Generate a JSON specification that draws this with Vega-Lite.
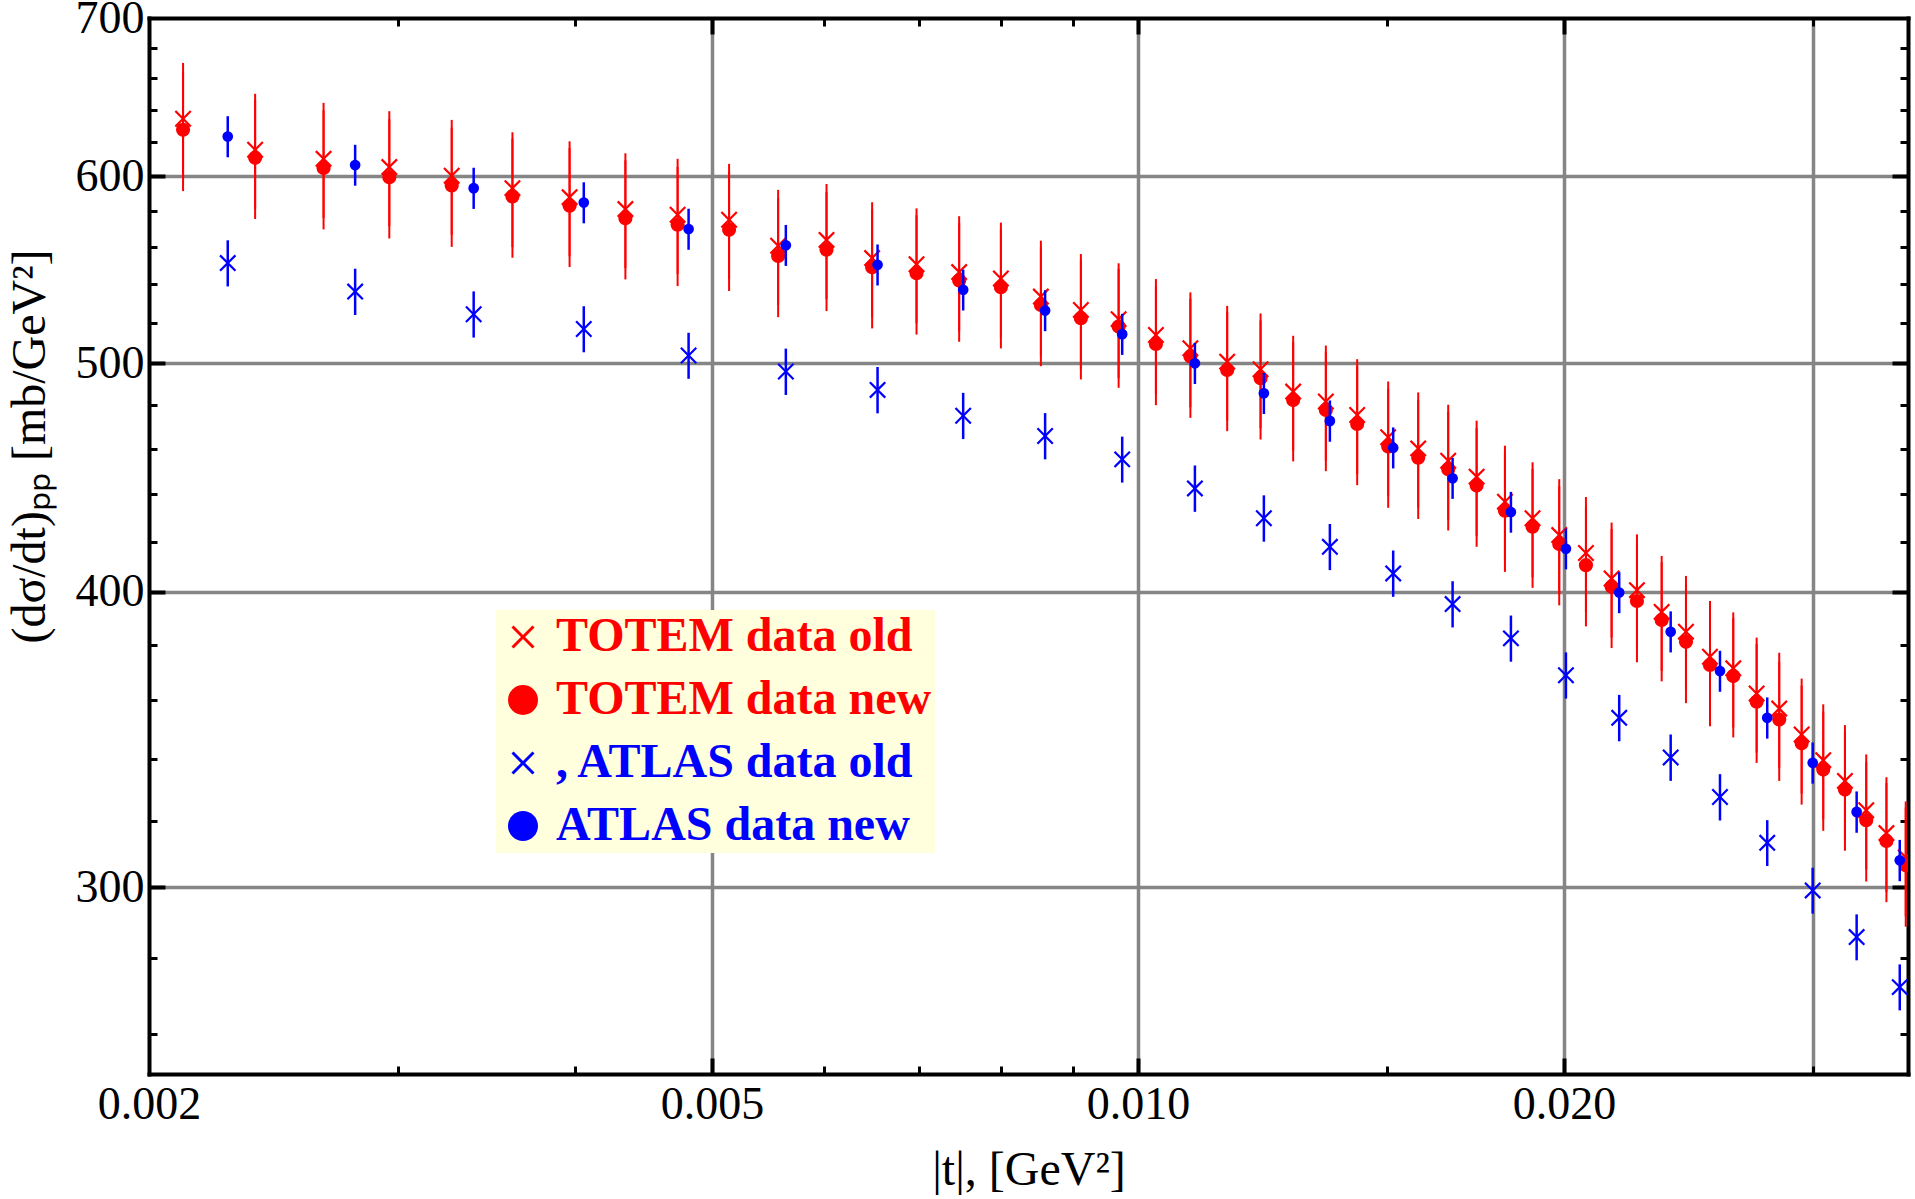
{
  "$schema": "https://vega.github.io/schema/vega-lite/v6.json",
  "width": 1759,
  "height": 1056,
  "autosize": {"type": "none"},
  "padding": {"left": 149, "top": 18, "right": 7, "bottom": 125},
  "background": "white",
  "config": {
    "view": {"stroke": null},
    "font": "Liberation Serif"
  },
  "data": {
    "values": [
      {"series": "TOTEM data old", "t": 0.002114, "v": 634.5, "err": 35.5},
      {"series": "TOTEM data old", "t": 0.002377, "v": 615.6, "err": 34.5},
      {"series": "TOTEM data old", "t": 0.002657, "v": 610.2, "err": 34.2},
      {"series": "TOTEM data old", "t": 0.002957, "v": 605.3, "err": 33.9},
      {"series": "TOTEM data old", "t": 0.003273, "v": 600.2, "err": 33.6},
      {"series": "TOTEM data old", "t": 0.003613, "v": 593.0, "err": 33.2},
      {"series": "TOTEM data old", "t": 0.003965, "v": 587.8, "err": 32.9},
      {"series": "TOTEM data old", "t": 0.004342, "v": 581.0, "err": 32.5},
      {"series": "TOTEM data old", "t": 0.004727, "v": 577.8, "err": 32.4},
      {"series": "TOTEM data old", "t": 0.00514, "v": 575.0, "err": 32.2},
      {"series": "TOTEM data old", "t": 0.005567, "v": 560.6, "err": 31.4},
      {"series": "TOTEM data old", "t": 0.006023, "v": 563.8, "err": 31.6},
      {"series": "TOTEM data old", "t": 0.006487, "v": 553.9, "err": 31.0},
      {"series": "TOTEM data old", "t": 0.006973, "v": 550.6, "err": 30.8},
      {"series": "TOTEM data old", "t": 0.007474, "v": 546.4, "err": 30.6},
      {"series": "TOTEM data old", "t": 0.007999, "v": 543.0, "err": 30.4},
      {"series": "TOTEM data old", "t": 0.008537, "v": 533.5, "err": 29.9},
      {"series": "TOTEM data old", "t": 0.009111, "v": 526.6, "err": 29.5},
      {"series": "TOTEM data old", "t": 0.009688, "v": 521.9, "err": 29.2},
      {"series": "TOTEM data old", "t": 0.010294, "v": 513.9, "err": 28.8},
      {"series": "TOTEM data old", "t": 0.010888, "v": 507.3, "err": 28.4},
      {"series": "TOTEM data old", "t": 0.01156, "v": 500.7, "err": 28.0},
      {"series": "TOTEM data old", "t": 0.012205, "v": 497.0, "err": 27.8},
      {"series": "TOTEM data old", "t": 0.01287, "v": 486.3, "err": 27.2},
      {"series": "TOTEM data old", "t": 0.013573, "v": 481.6, "err": 27.0},
      {"series": "TOTEM data old", "t": 0.014283, "v": 475.3, "err": 26.6},
      {"series": "TOTEM data old", "t": 0.015022, "v": 465.1, "err": 26.0},
      {"series": "TOTEM data old", "t": 0.015774, "v": 460.1, "err": 25.8},
      {"series": "TOTEM data old", "t": 0.016563, "v": 454.6, "err": 25.5},
      {"series": "TOTEM data old", "t": 0.017347, "v": 447.6, "err": 25.1},
      {"series": "TOTEM data old", "t": 0.018165, "v": 436.8, "err": 24.5},
      {"series": "TOTEM data old", "t": 0.019, "v": 429.8, "err": 24.1},
      {"series": "TOTEM data old", "t": 0.019843, "v": 422.8, "err": 23.7},
      {"series": "TOTEM data old", "t": 0.020724, "v": 415.5, "err": 23.3},
      {"series": "TOTEM data old", "t": 0.021608, "v": 405.3, "err": 22.7},
      {"series": "TOTEM data old", "t": 0.022518, "v": 400.7, "err": 22.4},
      {"series": "TOTEM data old", "t": 0.023442, "v": 392.3, "err": 22.0},
      {"series": "TOTEM data old", "t": 0.024387, "v": 384.8, "err": 21.5},
      {"series": "TOTEM data old", "t": 0.025359, "v": 375.5, "err": 21.0},
      {"series": "TOTEM data old", "t": 0.026338, "v": 371.3, "err": 20.8},
      {"series": "TOTEM data old", "t": 0.027359, "v": 362.3, "err": 20.3},
      {"series": "TOTEM data old", "t": 0.028384, "v": 357.0, "err": 20.0},
      {"series": "TOTEM data old", "t": 0.029438, "v": 348.1, "err": 19.5},
      {"series": "TOTEM data old", "t": 0.030491, "v": 339.5, "err": 19.0},
      {"series": "TOTEM data old", "t": 0.031587, "v": 332.7, "err": 18.6},
      {"series": "TOTEM data old", "t": 0.0327, "v": 323.3, "err": 18.1},
      {"series": "TOTEM data old", "t": 0.033793, "v": 316.2, "err": 17.7},
      {"series": "TOTEM data old", "t": 0.034871, "v": 308.8, "err": 17.3},
      {"series": "TOTEM data new", "t": 0.002114, "v": 627.7, "err": 36.4},
      {"series": "TOTEM data new", "t": 0.002377, "v": 610.8, "err": 35.4},
      {"series": "TOTEM data new", "t": 0.002657, "v": 604.7, "err": 35.1},
      {"series": "TOTEM data new", "t": 0.002957, "v": 599.4, "err": 34.8},
      {"series": "TOTEM data new", "t": 0.003273, "v": 594.5, "err": 34.5},
      {"series": "TOTEM data new", "t": 0.003613, "v": 588.2, "err": 34.1},
      {"series": "TOTEM data new", "t": 0.003965, "v": 582.9, "err": 33.8},
      {"series": "TOTEM data new", "t": 0.004342, "v": 575.9, "err": 33.4},
      {"series": "TOTEM data new", "t": 0.004727, "v": 572.2, "err": 33.2},
      {"series": "TOTEM data new", "t": 0.00514, "v": 569.4, "err": 33.0},
      {"series": "TOTEM data new", "t": 0.005567, "v": 555.1, "err": 32.2},
      {"series": "TOTEM data new", "t": 0.006023, "v": 558.4, "err": 32.4},
      {"series": "TOTEM data new", "t": 0.006487, "v": 549.0, "err": 31.8},
      {"series": "TOTEM data new", "t": 0.006973, "v": 545.8, "err": 31.7},
      {"series": "TOTEM data new", "t": 0.007474, "v": 541.9, "err": 31.4},
      {"series": "TOTEM data new", "t": 0.007999, "v": 538.4, "err": 31.2},
      {"series": "TOTEM data new", "t": 0.008537, "v": 529.2, "err": 30.7},
      {"series": "TOTEM data new", "t": 0.009111, "v": 522.4, "err": 30.3},
      {"series": "TOTEM data new", "t": 0.009688, "v": 518.1, "err": 30.0},
      {"series": "TOTEM data new", "t": 0.010294, "v": 509.4, "err": 29.5},
      {"series": "TOTEM data new", "t": 0.010888, "v": 503.2, "err": 29.2},
      {"series": "TOTEM data new", "t": 0.01156, "v": 496.7, "err": 28.8},
      {"series": "TOTEM data new", "t": 0.012205, "v": 492.7, "err": 28.6},
      {"series": "TOTEM data new", "t": 0.01287, "v": 482.3, "err": 28.0},
      {"series": "TOTEM data new", "t": 0.013573, "v": 477.7, "err": 27.7},
      {"series": "TOTEM data new", "t": 0.014283, "v": 471.2, "err": 27.3},
      {"series": "TOTEM data new", "t": 0.015022, "v": 460.9, "err": 26.7},
      {"series": "TOTEM data new", "t": 0.015774, "v": 455.9, "err": 26.4},
      {"series": "TOTEM data new", "t": 0.016563, "v": 450.8, "err": 26.1},
      {"series": "TOTEM data new", "t": 0.017347, "v": 443.7, "err": 25.7},
      {"series": "TOTEM data new", "t": 0.018165, "v": 433.0, "err": 25.1},
      {"series": "TOTEM data new", "t": 0.019, "v": 426.3, "err": 24.7},
      {"series": "TOTEM data new", "t": 0.019843, "v": 419.1, "err": 24.3},
      {"series": "TOTEM data new", "t": 0.020724, "v": 410.6, "err": 23.8},
      {"series": "TOTEM data new", "t": 0.021608, "v": 402.0, "err": 23.3},
      {"series": "TOTEM data new", "t": 0.022518, "v": 396.5, "err": 23.0},
      {"series": "TOTEM data new", "t": 0.023442, "v": 389.2, "err": 22.6},
      {"series": "TOTEM data new", "t": 0.024387, "v": 381.0, "err": 22.1},
      {"series": "TOTEM data new", "t": 0.025359, "v": 372.5, "err": 21.6},
      {"series": "TOTEM data new", "t": 0.026338, "v": 368.5, "err": 21.4},
      {"series": "TOTEM data new", "t": 0.027359, "v": 359.4, "err": 20.8},
      {"series": "TOTEM data new", "t": 0.028384, "v": 353.2, "err": 20.5},
      {"series": "TOTEM data new", "t": 0.029438, "v": 345.1, "err": 20.0},
      {"series": "TOTEM data new", "t": 0.030491, "v": 336.4, "err": 19.5},
      {"series": "TOTEM data new", "t": 0.031587, "v": 329.9, "err": 19.1},
      {"series": "TOTEM data new", "t": 0.0327, "v": 320.2, "err": 18.6},
      {"series": "TOTEM data new", "t": 0.033793, "v": 313.8, "err": 18.2},
      {"series": "TOTEM data new", "t": 0.034871, "v": 306.4, "err": 17.8},
      {"series": "ATLAS data old", "t": 0.0022734, "v": 551.2, "err": 12.4},
      {"series": "ATLAS data old", "t": 0.0027971, "v": 536.1, "err": 12.1},
      {"series": "ATLAS data old", "t": 0.0033921, "v": 524.4, "err": 11.8},
      {"series": "ATLAS data old", "t": 0.0040577, "v": 516.9, "err": 11.6},
      {"series": "ATLAS data old", "t": 0.0048122, "v": 503.7, "err": 11.3},
      {"series": "ATLAS data old", "t": 0.0056373, "v": 495.9, "err": 11.2},
      {"series": "ATLAS data old", "t": 0.0065446, "v": 487.1, "err": 11.0},
      {"series": "ATLAS data old", "t": 0.0075229, "v": 475.0, "err": 10.7},
      {"series": "ATLAS data old", "t": 0.0085959, "v": 465.7, "err": 10.5},
      {"series": "ATLAS data old", "t": 0.0097445, "v": 455.2, "err": 10.2},
      {"series": "ATLAS data old", "t": 0.0109684, "v": 442.5, "err": 10.0},
      {"series": "ATLAS data old", "t": 0.0122709, "v": 429.8, "err": 9.7},
      {"series": "ATLAS data old", "t": 0.0136621, "v": 418.0, "err": 9.4},
      {"series": "ATLAS data old", "t": 0.0151449, "v": 407.3, "err": 9.2},
      {"series": "ATLAS data old", "t": 0.0166821, "v": 395.3, "err": 8.9},
      {"series": "ATLAS data old", "t": 0.0183427, "v": 382.3, "err": 8.6},
      {"series": "ATLAS data old", "t": 0.02006, "v": 368.8, "err": 8.3},
      {"series": "ATLAS data old", "t": 0.021877, "v": 353.8, "err": 8.0},
      {"series": "ATLAS data old", "t": 0.023788, "v": 340.4, "err": 7.7},
      {"series": "ATLAS data old", "t": 0.025775, "v": 327.5, "err": 7.4},
      {"series": "ATLAS data old", "t": 0.027835, "v": 313.2, "err": 7.0},
      {"series": "ATLAS data old", "t": 0.029972, "v": 299.0, "err": 6.7},
      {"series": "ATLAS data old", "t": 0.032194, "v": 285.7, "err": 6.4},
      {"series": "ATLAS data old", "t": 0.034533, "v": 272.1, "err": 6.1},
      {"series": "ATLAS data new", "t": 0.0022734, "v": 623.6, "err": 12.5},
      {"series": "ATLAS data new", "t": 0.0027971, "v": 606.5, "err": 12.1},
      {"series": "ATLAS data new", "t": 0.0033921, "v": 593.0, "err": 11.9},
      {"series": "ATLAS data new", "t": 0.0040577, "v": 584.7, "err": 11.7},
      {"series": "ATLAS data new", "t": 0.0048122, "v": 569.8, "err": 11.4},
      {"series": "ATLAS data new", "t": 0.0056373, "v": 560.9, "err": 11.2},
      {"series": "ATLAS data new", "t": 0.0065446, "v": 550.3, "err": 11.0},
      {"series": "ATLAS data new", "t": 0.0075229, "v": 537.0, "err": 10.7},
      {"series": "ATLAS data new", "t": 0.0085959, "v": 526.3, "err": 10.5},
      {"series": "ATLAS data new", "t": 0.0097445, "v": 514.3, "err": 10.3},
      {"series": "ATLAS data new", "t": 0.0109684, "v": 499.9, "err": 10.0},
      {"series": "ATLAS data new", "t": 0.0122709, "v": 485.5, "err": 9.7},
      {"series": "ATLAS data new", "t": 0.0136621, "v": 472.6, "err": 9.5},
      {"series": "ATLAS data new", "t": 0.0151449, "v": 460.4, "err": 9.2},
      {"series": "ATLAS data new", "t": 0.0166821, "v": 446.9, "err": 8.9},
      {"series": "ATLAS data new", "t": 0.0183427, "v": 432.4, "err": 8.6},
      {"series": "ATLAS data new", "t": 0.02006, "v": 417.2, "err": 8.3},
      {"series": "ATLAS data new", "t": 0.021877, "v": 399.8, "err": 8.0},
      {"series": "ATLAS data new", "t": 0.023788, "v": 384.8, "err": 7.7},
      {"series": "ATLAS data new", "t": 0.025775, "v": 370.3, "err": 7.4},
      {"series": "ATLAS data new", "t": 0.027835, "v": 353.8, "err": 7.1},
      {"series": "ATLAS data new", "t": 0.029972, "v": 338.6, "err": 6.8},
      {"series": "ATLAS data new", "t": 0.032194, "v": 322.8, "err": 6.5},
      {"series": "ATLAS data new", "t": 0.034533, "v": 307.9, "err": 6.2}
    ]
  },
  "resolve": {"axis": {"x": "independent", "y": "independent"}},
  "layer": [
    {
      "mark": {"type": "point", "opacity": 0},
      "encoding": {
        "x": {"field": "t", "type": "quantitative", "scale": {"type": "log", "domain": [0.002, 0.035], "nice": false},
          "axis": {"orient": "bottom", "values": [0.005, 0.01, 0.02, 0.03], "grid": true, "gridColor": "#858585", "gridWidth": 3.5, "gridOpacity": 1, "ticks": false, "labels": false, "domain": false, "title": null}},
        "y": {"field": "v", "type": "quantitative", "scale": {"type": "log", "domain": [250, 700], "nice": false},
          "axis": {"orient": "left", "values": [300, 400, 500, 600], "grid": true, "gridColor": "#858585", "gridWidth": 3.5, "gridOpacity": 1, "ticks": false, "labels": false, "domain": false, "title": null}}
      }
    },
    {
      "mark": {"type": "point", "opacity": 0},
      "encoding": {
        "x": {"field": "t", "type": "quantitative", "scale": {"type": "log", "domain": [0.002, 0.035], "nice": false},
          "axis": {"orient": "bottom", "values": [0.002, 0.005, 0.01, 0.02], "format": ".3f", "grid": false, "ticks": false, "domain": true, "domainColor": "black", "domainWidth": 4, "domainCap": "square",
            "labelFont": "Liberation Serif", "labelFontSize": 46, "labelColor": "black", "labelPadding": 8, "labelFlush": false, "labelOverlap": false,
            "title": "|t|, [GeV²]", "titleFont": "Liberation Serif", "titleFontSize": 48, "titleFontWeight": "normal", "titleColor": "black", "titleY": 72, "titleBaseline": "top"}},
        "y": {"field": "v", "type": "quantitative", "scale": {"type": "log", "domain": [250, 700], "nice": false},
          "axis": {"orient": "left", "values": [300, 400, 500, 600, 700], "format": "d", "grid": false, "ticks": false, "domain": true, "domainColor": "black", "domainWidth": 4, "domainCap": "square",
            "labelFont": "Liberation Serif", "labelFontSize": 46, "labelColor": "black", "labelPadding": 5, "labelFlush": false, "labelOverlap": false,
            "title": "(dσ/dt)ₚₚ [mb/GeV²]", "titleFont": "Liberation Serif", "titleFontSize": 48, "titleFontWeight": "normal", "titleColor": "black", "titleX": -95, "titleY": 428}}
      }
    },
    {
      "mark": {"type": "point", "opacity": 0},
      "encoding": {
        "x": {"field": "t", "type": "quantitative", "scale": {"type": "log", "domain": [0.002, 0.035], "nice": false},
          "axis": {"orient": "bottom", "values": [0.005, 0.01, 0.02], "grid": false, "labels": false, "domain": false, "ticks": true, "tickSize": -16, "tickWidth": 4, "tickColor": "black", "title": null}},
        "y": {"field": "v", "type": "quantitative", "scale": {"type": "log", "domain": [250, 700], "nice": false},
          "axis": {"orient": "left", "values": [300, 400, 500, 600], "grid": false, "labels": false, "domain": false, "ticks": true, "tickSize": -16, "tickWidth": 4, "tickColor": "black", "title": null}}
      }
    },
    {
      "mark": {"type": "point", "opacity": 0},
      "encoding": {
        "x": {"field": "t", "type": "quantitative", "scale": {"type": "log", "domain": [0.002, 0.035], "nice": false},
          "axis": {"orient": "bottom", "values": [0.003, 0.004, 0.006, 0.007, 0.008, 0.009, 0.015, 0.03], "grid": false, "labels": false, "domain": false, "ticks": true, "tickSize": -8, "tickWidth": 3, "tickColor": "black", "title": null}},
        "y": {"field": "v", "type": "quantitative", "scale": {"type": "log", "domain": [250, 700], "nice": false},
          "axis": {"orient": "left", "values": [260, 280, 320, 340, 360, 380, 420, 440, 460, 480, 520, 540, 560, 580, 620, 640, 660, 680], "grid": false, "labels": false, "domain": false, "ticks": true, "tickSize": -8, "tickWidth": 3, "tickColor": "black", "title": null}}
      }
    },
    {
      "mark": {"type": "point", "opacity": 0},
      "encoding": {
        "x": {"field": "t", "type": "quantitative", "scale": {"type": "log", "domain": [0.002, 0.035], "nice": false},
          "axis": {"orient": "top", "values": [0.005, 0.01, 0.02], "grid": false, "labels": false, "domain": true, "domainColor": "black", "domainWidth": 4, "domainCap": "square", "ticks": true, "tickSize": -16, "tickWidth": 4, "tickColor": "black", "title": null}},
        "y": {"field": "v", "type": "quantitative", "scale": {"type": "log", "domain": [250, 700], "nice": false},
          "axis": {"orient": "right", "values": [300, 400, 500, 600], "grid": false, "labels": false, "domain": true, "domainColor": "black", "domainWidth": 4, "domainCap": "square", "ticks": true, "tickSize": -16, "tickWidth": 4, "tickColor": "black", "title": null}}
      }
    },
    {
      "mark": {"type": "point", "opacity": 0},
      "encoding": {
        "x": {"field": "t", "type": "quantitative", "scale": {"type": "log", "domain": [0.002, 0.035], "nice": false},
          "axis": {"orient": "top", "values": [0.003, 0.004, 0.006, 0.007, 0.008, 0.009, 0.015, 0.03], "grid": false, "labels": false, "domain": false, "ticks": true, "tickSize": -8, "tickWidth": 3, "tickColor": "black", "title": null}},
        "y": {"field": "v", "type": "quantitative", "scale": {"type": "log", "domain": [250, 700], "nice": false},
          "axis": {"orient": "right", "values": [260, 280, 320, 340, 360, 380, 420, 440, 460, 480, 520, 540, 560, 580, 620, 640, 660, 680], "grid": false, "labels": false, "domain": false, "ticks": true, "tickSize": -8, "tickWidth": 3, "tickColor": "black", "title": null}}
      }
    },
    {
      "transform": [{"filter": "indexof(datum.series, 'TOTEM') >= 0"}],
      "mark": {"type": "errorbar", "color": "#ff0000", "thickness": 2, "clip": true},
      "encoding": {
        "x": {"field": "t", "type": "quantitative", "scale": {"type": "log", "domain": [0.002, 0.035], "nice": false}, "axis": null},
        "y": {"field": "v", "type": "quantitative", "scale": {"type": "log", "domain": [250, 700], "nice": false}, "axis": null},
        "yError": {"field": "err"}
      }
    },
    {
      "transform": [{"filter": "indexof(datum.series, 'TOTEM') >= 0"}],
      "mark": {"type": "point", "filled": true, "opacity": 1, "strokeWidth": 0, "size": 200, "clip": true},
      "encoding": {
        "x": {"field": "t", "type": "quantitative", "scale": {"type": "log", "domain": [0.002, 0.035], "nice": false}, "axis": null},
        "y": {"field": "v", "type": "quantitative", "scale": {"type": "log", "domain": [250, 700], "nice": false}, "axis": null},
        "color": {"field": "series", "type": "nominal",
          "scale": {"domain": ["TOTEM data old", "TOTEM data new", "ATLAS data old", "ATLAS data new"], "range": ["#ff0000", "#ff0000", "#0000ff", "#0000ff"]},
          "legend": {"title": null, "orient": "none", "legendX": 347, "legendY": 592, "direction": "vertical", "padding": 3, "fillColor": "#ffffdd",
            "labelFont": "Liberation Serif", "labelFontSize": 48, "labelFontWeight": "bold", "labelLimit": 0, "labelOffset": 9,
            "labelColor": {"expr": "indexof(datum.value, 'TOTEM') >= 0 ? '#ff0000' : '#0000ff'"},
            "symbolSize": {"expr": "datum.value == 'TOTEM data new' ? 900 : datum.value == 'ATLAS data new' ? 1600 : 370"},
            "symbolStrokeWidth": 0, "rowPadding": 15,
            "labelExpr": "datum.label == 'ATLAS data old' ? ', ATLAS data old' : datum.label"}},
        "shape": {"field": "series", "type": "nominal",
          "scale": {"domain": ["TOTEM data old", "TOTEM data new", "ATLAS data old", "ATLAS data new"],
            "range": ["M-1.2,-0.98L-0.98,-1.2L0,-0.22L0.98,-1.2L1.2,-0.98L0.22,0L1.2,0.98L0.98,1.2L0,0.22L-0.98,1.2L-1.2,0.98L-0.22,0Z", "circle", "M-1.2,-0.98L-0.98,-1.2L0,-0.22L0.98,-1.2L1.2,-0.98L0.22,0L1.2,0.98L0.98,1.2L0,0.22L-0.98,1.2L-1.2,0.98L-0.22,0Z", "M-0.75,0A0.75,0.75,0,1,0,0.75,0A0.75,0.75,0,1,0,-0.75,0Z"]},
          "legend": {"title": null, "orient": "none", "legendX": 347, "legendY": 592, "direction": "vertical", "padding": 3, "fillColor": "#ffffdd",
            "labelFont": "Liberation Serif", "labelFontSize": 48, "labelFontWeight": "bold", "labelLimit": 0, "labelOffset": 9,
            "labelColor": {"expr": "indexof(datum.value, 'TOTEM') >= 0 ? '#ff0000' : '#0000ff'"},
            "symbolSize": {"expr": "datum.value == 'TOTEM data new' ? 900 : datum.value == 'ATLAS data new' ? 1600 : 370"},
            "symbolStrokeWidth": 0, "rowPadding": 15,
            "labelExpr": "datum.label == 'ATLAS data old' ? ', ATLAS data old' : datum.label"}}
      }
    },
    {
      "transform": [{"filter": "indexof(datum.series, 'ATLAS') >= 0"}],
      "mark": {"type": "errorbar", "color": "#0000ff", "thickness": 2.5, "clip": true},
      "encoding": {
        "x": {"field": "t", "type": "quantitative", "scale": {"type": "log", "domain": [0.002, 0.035], "nice": false}, "axis": null},
        "y": {"field": "v", "type": "quantitative", "scale": {"type": "log", "domain": [250, 700], "nice": false}, "axis": null},
        "yError": {"field": "err"}
      }
    },
    {
      "transform": [{"filter": "indexof(datum.series, 'ATLAS') >= 0"}],
      "mark": {"type": "point", "filled": true, "opacity": 1, "strokeWidth": 0, "size": 200, "clip": true},
      "encoding": {
        "x": {"field": "t", "type": "quantitative", "scale": {"type": "log", "domain": [0.002, 0.035], "nice": false}, "axis": null},
        "y": {"field": "v", "type": "quantitative", "scale": {"type": "log", "domain": [250, 700], "nice": false}, "axis": null},
        "color": {"field": "series", "type": "nominal", "legend": null},
        "shape": {"field": "series", "type": "nominal", "legend": null}
      }
    }
  ]
}
